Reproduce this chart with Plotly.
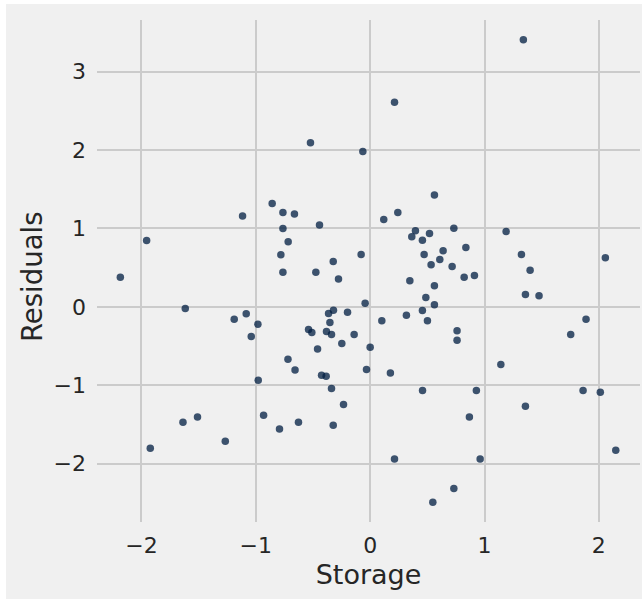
import plotly.graph_objects as go

storage = [
    -0.522, -1.116, -0.857, -0.763, -0.662, -0.763, -0.443, -0.717, -0.781, -0.763,
    -0.475, -1.955, -2.185, 1.340, 0.213, -0.064, 0.562, 0.242, 0.119, 0.732,
    1.189, 0.396, 0.364, 0.519, 0.457, 0.837, 0.638, 0.472, -0.079, 0.609,
    0.533, 0.717, -0.323, -0.277, 1.323, 1.399, 2.057, 0.347, 0.822, 0.912,
    0.562, 1.358, 1.477, 0.487, -0.044, 0.562, 0.457, 0.317, 0.501, 0.102,
    -0.198, -0.321, -0.364, -0.352, -0.382, -0.338, -0.140, -0.248, 0.000, 0.760,
    0.760, 1.754, 1.888, 1.143, -0.032, 0.177, -0.425, -0.385, -0.338, 0.458,
    0.929, 1.862, 2.013, -0.233, 1.358, 0.868, -0.323, 2.148, 0.213, 0.962,
    0.732, 0.548, -1.617, -1.189, -1.084, -0.982, -1.040, -0.539, -0.510, -0.460,
    -0.719, -0.657, -0.979, -0.932, -0.793, -0.627, -1.637, -1.510, -1.267, -1.923,
]
residuals = [
    2.093, 1.158, 1.320, 1.205, 1.183, 1.000, 1.043, 0.830, 0.664, 0.443,
    0.443, 0.847, 0.379, 3.408, 2.609, 1.983, 1.426, 1.205, 1.115, 1.004,
    0.962, 0.970, 0.893, 0.937, 0.851, 0.758, 0.715, 0.668, 0.668, 0.605,
    0.536, 0.515, 0.579, 0.357, 0.668, 0.468, 0.626, 0.332, 0.379, 0.400,
    0.268, 0.158, 0.141, 0.120, 0.047, 0.026, -0.046, -0.106, -0.178, -0.178,
    -0.068, -0.042, -0.085, -0.200, -0.314, -0.352, -0.352, -0.468, -0.514, -0.306,
    -0.425, -0.352, -0.157, -0.735, -0.800, -0.842, -0.872, -0.885, -1.042, -1.067,
    -1.067, -1.067, -1.089, -1.246, -1.267, -1.404, -1.510, -1.829, -1.940, -1.940,
    -2.318, -2.493, -0.020, -0.157, -0.089, -0.221, -0.378, -0.288, -0.327, -0.536,
    -0.668, -0.804, -0.936, -1.382, -1.557, -1.472, -1.472, -1.404, -1.714, -1.803,
]
x_ticks = [-2, -1, 0, 1, 2]
y_ticks = [-2, -1, 0, 1, 2, 3]
x_label = "Storage"
y_label = "Residuals"

W, H = 642, 600
L, R, T, B = 97, 2, 20, 78
pw, ph = W - L - R, H - T - B
GRAY = "#f0f0f0"
FONT = "DejaVu Sans"
TXT = "#262626"

fig = go.Figure(go.Scatter(
    x=storage, y=residuals, mode="markers",
    marker=dict(size=7.5, color="rgba(0,30,66,0.75)", line=dict(width=0)),
    showlegend=False, hoverinfo="skip",
))

fig.add_shape(type="rect", xref="paper", yref="paper",
              x0=(6 - L) / pw, x1=(W - L) / pw,
              y0=(H - B - 599) / ph, y1=(H - B - 4) / ph,
              fillcolor=GRAY, line=dict(width=0), layer="below")

fig.add_annotation(text=y_label, xref="paper", yref="paper",
                   x=(32 - L) / pw, y=(H - B - 277) / ph,
                   xanchor="center", yanchor="middle", textangle=-90,
                   showarrow=False, font=dict(family=FONT, size=27.5, color=TXT))

axis_common = dict(
    showgrid=True, gridcolor="#cbcbcb", gridwidth=1.6,
    zeroline=False, showline=False, ticks="",
    tickfont=dict(family=FONT, size=22, color=TXT),
)
fig.update_layout(
    width=W, height=H,
    margin=dict(l=L, r=R, t=T, b=B, pad=0),
    paper_bgcolor="white", plot_bgcolor=GRAY,
    xaxis=dict(range=[-2.389, 2.360], tickvals=x_ticks,
               ticktext=[str(v).replace("-", "\u2212") for v in x_ticks],
               ticklabelstandoff=8,
               title=dict(text=x_label, font=dict(family=FONT, size=27, color=TXT), standoff=8),
               **axis_common),
    yaxis=dict(range=[-2.744, 3.659], tickvals=y_ticks,
               ticktext=[str(v).replace("-", "\u2212") for v in y_ticks],
               ticklabelstandoff=10,
               **axis_common),
)

fig.write_html("out.html")
